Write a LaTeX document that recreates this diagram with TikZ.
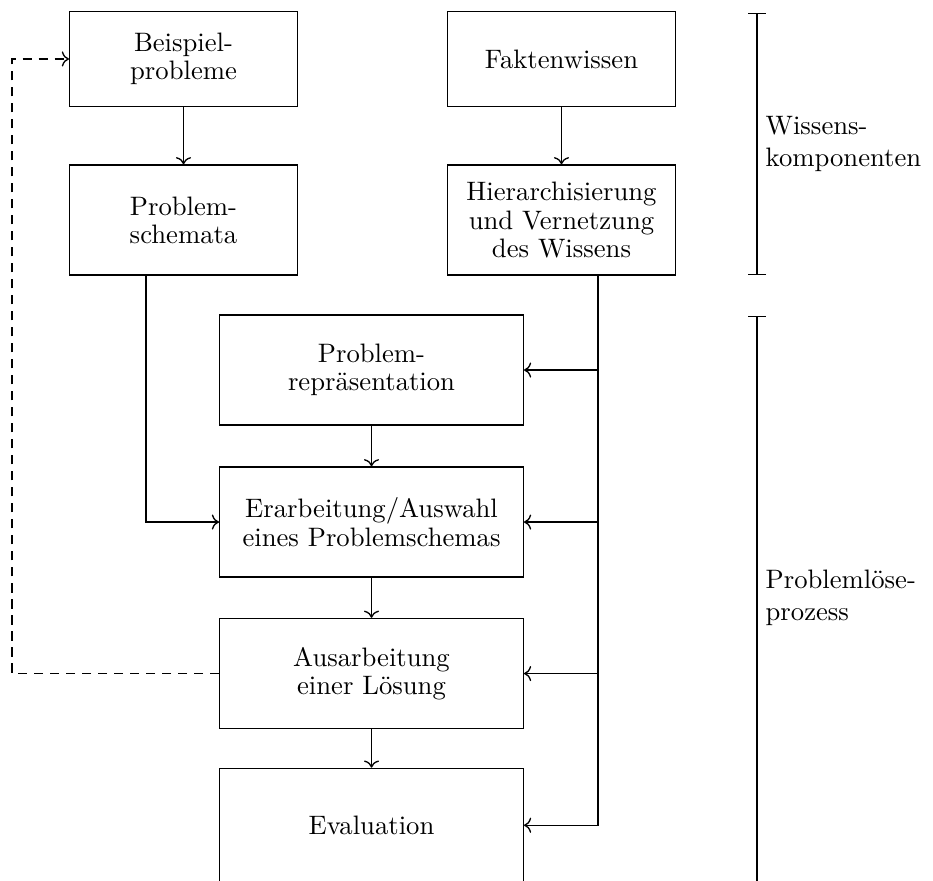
\documentclass[tikz,border=0pt]{standalone}
\usepackage{tikz}
\usetikzlibrary{arrows.meta,positioning,calc}

\begin{document}
\begin{tikzpicture}[
    line width=0.5pt,
    box/.style={draw, align=center, minimum width=3cm, minimum height=1.25cm, inner sep=2pt,
      font=\fontsize{10pt}{10.6pt}\selectfont},
    widebox/.style={box, minimum width=4cm, minimum height=1.45cm},
    link/.style={->},
    backlink/.style={->, dash pattern=on 3.5pt off 2.5pt},
    brace/.style={{Bar[width=6.75pt]}-{Bar[width=6.75pt]}},
    sidelabel/.style={anchor=west, align=left, inner sep=0pt}
  ]
  \useasboundingbox (0,0) rectangle (12.293,-11.595);
  \clip (0,0) rectangle (12.293,-11.595);

  \node[box] (beisp) at (2.418,-0.777) {Beispiel-\\probleme};
  \node[box] (fakt) at (7.398,-0.777) {Faktenwissen};
  \node[box, minimum height=1.45cm] (schem) at (2.418,-2.899) {Problem-\\schemata};
  \node[box, minimum height=1.45cm] (hier) at (7.398,-2.899) {Hierarchisierung\\und Vernetzung\\des Wissens};
  \node[widebox] (repr) at (4.895,-4.875) {Problem-\\repräsentation};
  \node[widebox] (erarb) at (4.895,-6.878) {Erarbeitung/Auswahl\\eines Problemschemas};
  \node[widebox] (ausarb) at (4.895,-8.874) {Ausarbeitung\\einer Lösung};
  \node[widebox, minimum height=1.5cm] (eval) at (4.895,-10.873) {Evaluation};

  \coordinate (rx) at (7.879,0);
  \coordinate (lx) at (1.924,0);
  \coordinate (dx) at (0.158,0);

  \draw[link] (beisp) -- (schem);
  \draw[link] (fakt) -- (hier);
  \draw[link] (repr) -- (erarb);
  \draw[link] (erarb) -- (ausarb);
  \draw[link] (ausarb) -- (eval);

  \draw[link] (hier.south -| rx) |- (eval.east);
  \draw[link] (rx |- repr.east) -- (repr.east);
  \draw[link] (rx |- erarb.east) -- (erarb.east);
  \draw[link] (rx |- ausarb.east) -- (ausarb.east);

  \draw[link] (schem.south -| lx) |- (erarb.west);
  \draw[backlink] (ausarb.west) -| (dx |- beisp.west) -- (beisp.west);

  \coordinate (wtop) at (9.974,-0.171);
  \coordinate (wbot) at (9.974,-3.623);
  \coordinate (ptop) at (9.974,-4.164);
  \coordinate (pbot) at (9.974,-11.65);
  \draw[brace] (wtop) -- (wbot);
  \draw[brace] (ptop) -- (pbot);
  \node[sidelabel] (wiss) at ($(wtop)!0.5!(wbot)+(0.105,0)$) {Wissens-\\komponenten};
  \node[sidelabel] (proz) at (10.079,-7.88) {Problemlöse-\\prozess};
\end{tikzpicture}
\end{document}
